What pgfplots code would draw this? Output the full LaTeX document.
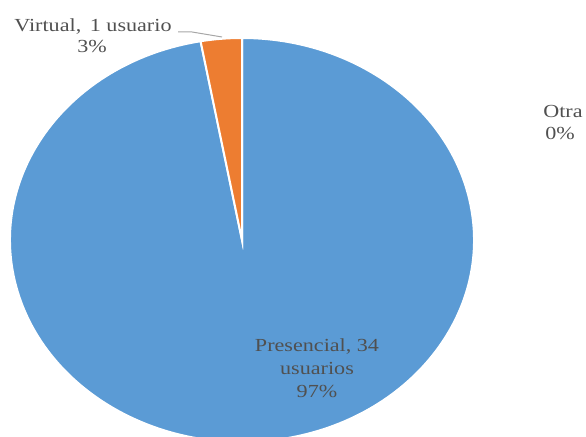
\documentclass[border=0pt]{standalone}
\usepackage{pgfplots}
\pgfplotsset{compat=1.18}
\usepackage{pgfplotstable}
\usepackage{fontspec}
\setmainfont[FakeStretch=1.2]{Liberation Serif}
\definecolor{cblue}{HTML}{5B9BD5}
\definecolor{corange}{HTML}{ED7D31}
\definecolor{ctext}{HTML}{505050}
\definecolor{cline}{HTML}{A6A6A6}
\pgfplotstableread{
label value
Presencial 34
Virtual 1
Otra 0
}\piedata
\begin{document}
\begin{tikzpicture}
\pgfplotstablegetelem{0}{value}\of\piedata \let\vP\pgfplotsretval
\pgfplotstablegetelem{1}{value}\of\piedata \let\vV\pgfplotsretval
\pgfplotstablegetelem{2}{value}\of\piedata \let\vO\pgfplotsretval
\pgfmathsetmacro{\tot}{\vP+\vV+\vO}
\pgfmathsetmacro{\aV}{90+360*\vV/\tot}
\pgfmathsetmacro{\aP}{\aV+360*\vP/\tot}
\begin{axis}[
  x=1bp, y=1bp,
  xmin=0, xmax=586, ymin=0, ymax=437,
  hide axis, clip=true,
]
\path (axis cs:0,0) rectangle (axis cs:586,437);
% Presencial
\fill[cblue, draw=white, line width=2bp] (axis cs:242,197) -- ++({232*cos(\aV)},{202*sin(\aV)}) arc[start angle=\aV, end angle=\aP, x radius=232bp, y radius=202bp] -- cycle;
% Virtual
\fill[corange, draw=white, line width=2bp] (axis cs:242,197) -- ++(0,202) arc[start angle=90, end angle=\aV, x radius=232bp, y radius=202bp] -- cycle;
% leader line
\draw[cline, line width=1bp] (axis cs:178,405) -- (axis cs:192,405) -- (axis cs:222,400);
\begin{scope}[every node/.style={text=ctext, font=\fontsize{18.5}{22}\selectfont, inner sep=0pt, anchor=base}]
\node at (axis cs:93,405) {Virtual,\, 1 usuario};
\node at (axis cs:92,384) {3\%};
\node at (axis cs:317,85) {Presencial, 34};
\node at (axis cs:317,62) {usuarios};
\node at (axis cs:317,39) {97\%};
\node at (axis cs:563,319) {Otra};
\node at (axis cs:560,297) {0\%};
\end{scope}
\end{axis}
\end{tikzpicture}
\end{document}
